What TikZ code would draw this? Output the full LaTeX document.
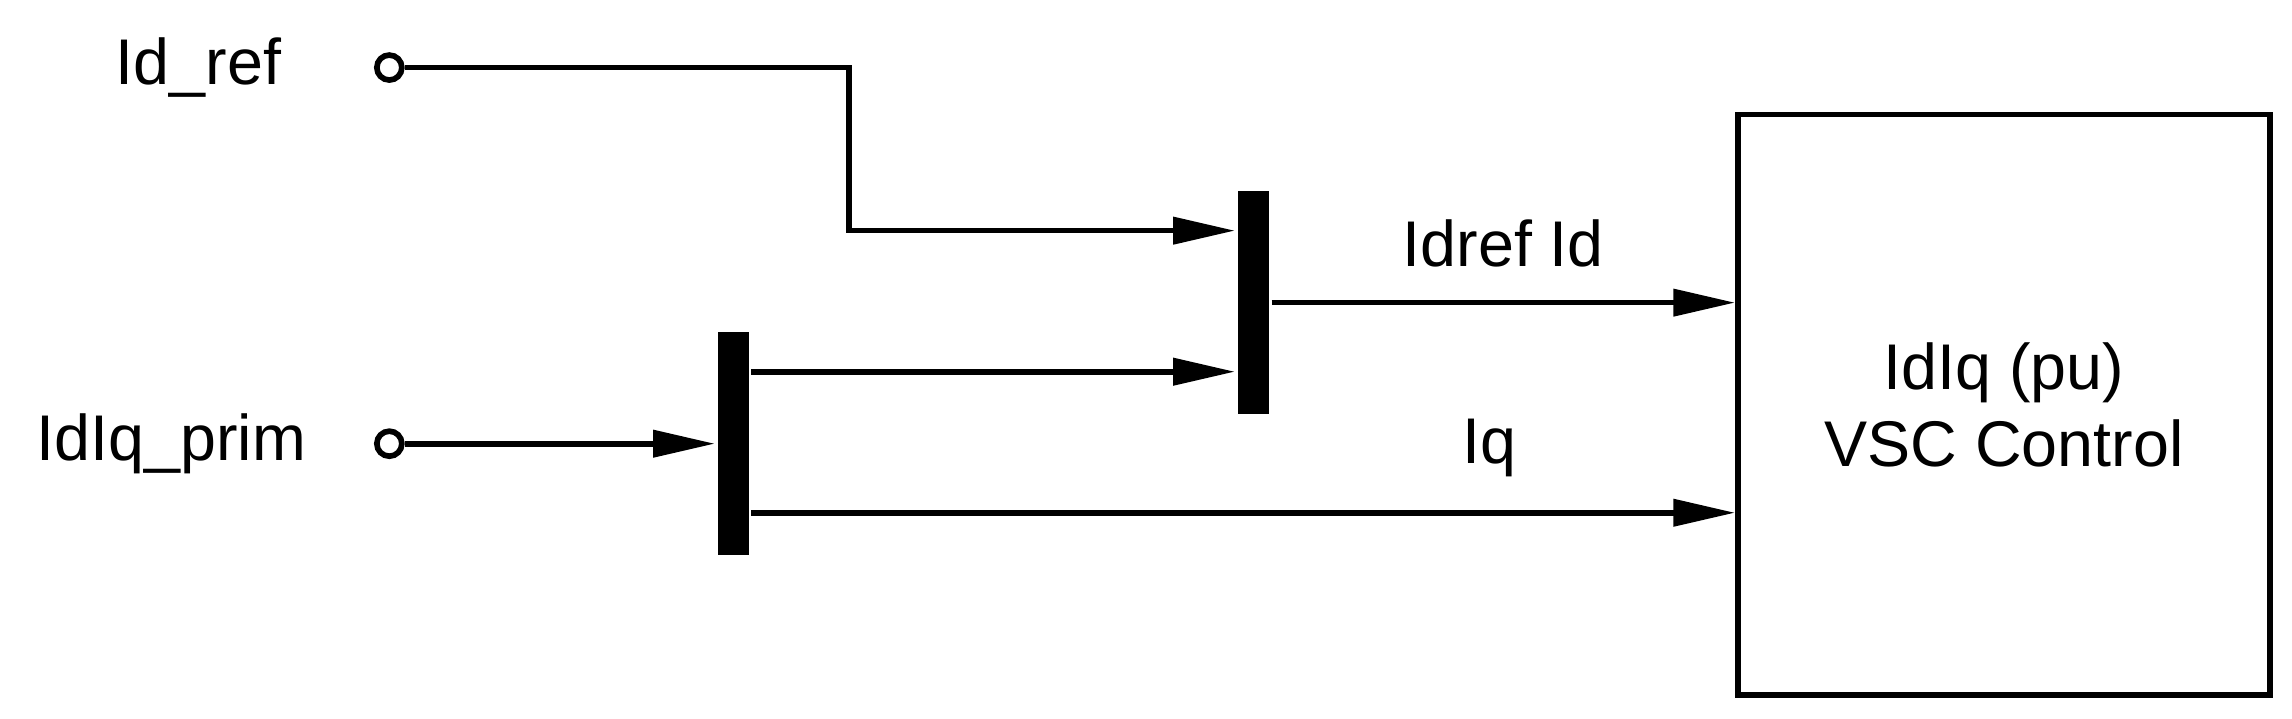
\documentclass[tikz,border=0pt]{standalone}
\usepackage{fontspec}
\setmainfont{Liberation Sans}
\usetikzlibrary{arrows.meta}

\begin{document}
\begin{tikzpicture}[x=0.01cm,y=-0.01cm,line width=1.1pt,
  sig/.style={-{Triangle[length=0.42cm,width=0.18cm]}},
  port/.style={circle,draw,line width=1.1pt,fill=white,inner sep=0pt,minimum size=0.17cm},
  bar/.style={fill=black,inner sep=0pt,minimum width=0.21cm},
  lbl/.style={font=\fontsize{12.5}{15}\selectfont}]
\useasboundingbox (0,0) rectangle (1560,489);

\node (idref) [port] at (265,46) {};
\node (prim) [port] at (265,302) {};
\node [lbl,anchor=east] at (205,46) {Id\_ref};
\node [lbl,anchor=east] at (222,302) {IdIq\_prim};

\node (mux) [bar,minimum height=1.52cm] at (853,206) {};
\node (demux) [bar,minimum height=1.52cm] at (499,302) {};

\node (ctrl) [draw,minimum width=3.62cm,minimum height=3.95cm,align=center,lbl] at (1364,275.5) {IdIq (pu)\\VSC Control};

% Id_ref into the mux
\coordinate (bend) at (578,46);
\draw [sig] (idref) -- (bend) |- (mux.west |- 0,157);
\draw [sig] (prim) -- (demux.west);
\draw [sig] (demux.east |- 0,253) -- (mux.west |- 0,253);

% outputs to the control block
\draw [sig] (mux.east) -- (ctrl.west |- mux.east) node [lbl,midway,above=3pt] {Idref Id};
\draw [sig] (demux.east |- 0,349) -- (ctrl.west |- 0,349) node [lbl,pos=0.75,above=3pt] {Iq};
\end{tikzpicture}
\end{document}
